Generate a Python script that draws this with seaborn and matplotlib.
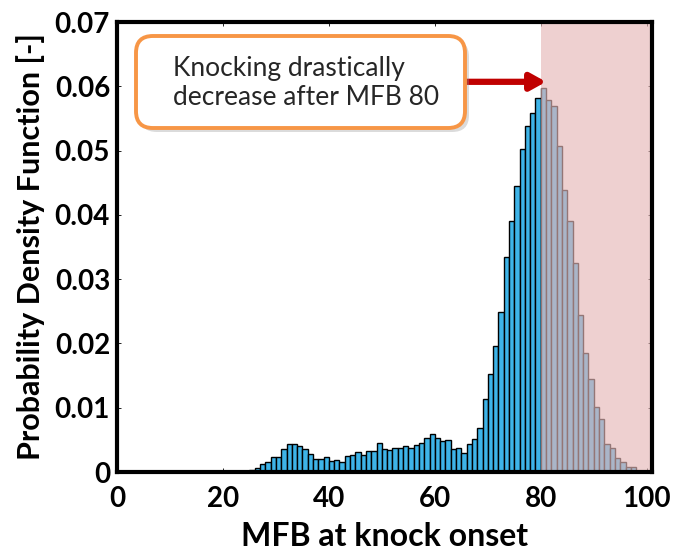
import numpy as np
import pandas as pd
import seaborn as sns
import matplotlib.pyplot as plt
from matplotlib.patches import FancyBboxPatch
from matplotlib.ticker import FuncFormatter

# MFB bins (left edge, width 1) and the PDF value of each bin
mfb_bins = list(range(20, 99))
pdf_values = [
    0.0001, 0.0000, 0.0000, 0.0001, 0.0002, 0.0003, 0.0006, 0.0012, 0.0016, 0.0024,  # 20-29
    0.0024, 0.0036, 0.0043, 0.0043, 0.0040, 0.0036, 0.0028, 0.0020, 0.0020, 0.0024,  # 30-39
    0.0017, 0.0018, 0.0016, 0.0025, 0.0027, 0.0031, 0.0027, 0.0033, 0.0033, 0.0045,  # 40-49
    0.0036, 0.0034, 0.0038, 0.0037, 0.0041, 0.0037, 0.0042, 0.0045, 0.0053, 0.0059,  # 50-59
    0.0053, 0.0048, 0.0050, 0.0036, 0.0038, 0.0029, 0.0043, 0.0052, 0.0069, 0.0114,  # 60-69
    0.0153, 0.0196, 0.0249, 0.0335, 0.0391, 0.0445, 0.0503, 0.0538, 0.0559, 0.0582,  # 70-79
    0.0597, 0.0578, 0.0570, 0.0507, 0.0438, 0.0391, 0.0325, 0.0245, 0.0185, 0.0145,  # 80-89
    0.0101, 0.0083, 0.0043, 0.0038, 0.0022, 0.0016, 0.0008, 0.0008, 0.0000,          # 90-98
]
x_ticks = [0, 20, 40, 60, 80, 100]
y_ticks = [0, 0.01, 0.02, 0.03, 0.04, 0.05, 0.06, 0.07]
mfb_limit = 80
note_text = "Knocking drastically\ndecrease after MFB 80"

sns.set_style("ticks")
plt.rcParams['font.family'] = ['Lato', 'DejaVu Sans']

fig = plt.figure(figsize=(6.74, 5.59), dpi=100)
ax = fig.add_axes([0.1736, 0.1556, 0.7938, 0.805])

df = pd.DataFrame({'mfb': np.array(mfb_bins) + 0.5, 'pdf': pdf_values})
sns.histplot(data=df, x='mfb', weights='pdf', binwidth=1,
             binrange=(mfb_bins[0], mfb_bins[-1] + 1),
             color='#3eb4e8', edgecolor='black', linewidth=1.0, alpha=1, ax=ax)

# region after MFB 80 shaded over the bars
ax.axvspan(mfb_limit, 101, color='#e5b7b7', alpha=0.65, lw=0, zorder=3)

ax.set_xlim(0, 101)
ax.set_ylim(0, 0.07)
ax.set_xticks(x_ticks)
ax.set_yticks(y_ticks)
ax.yaxis.set_major_formatter(FuncFormatter(lambda v, p: '0' if v == 0 else f'{v:.2f}'))
ax.tick_params(direction='in', length=3, width=0.6, color='black', top=True, right=True,
               labelsize=20, labelcolor='black')
ax.tick_params(axis='x', pad=10)
ax.tick_params(axis='y', pad=5)
for lab in ax.get_xticklabels() + ax.get_yticklabels():
    lab.set_fontweight('bold')
for sp in ax.spines.values():
    sp.set_visible(True)
    sp.set_linewidth(3)
    sp.set_color('black')
    sp.set_zorder(5)

ax.set_xlabel('MFB at knock onset', fontsize=23, fontweight='bold', labelpad=7, color='black')
ax.set_ylabel('Probability Density Function [-]', fontsize=22, fontweight='bold',
              labelpad=7, color='black')

# callout box (figure fraction coords, round corners kept circular)
asp = 674 / 559
bx0, bx1 = 136 / 674, 465 / 674
by0, by1 = 1 - 128 / 559, 1 - 36 / 559
shadow = FancyBboxPatch((bx0 + 4 / 674, by0 - 4 / 559), bx1 - bx0, by1 - by0,
                        boxstyle='round,pad=0,rounding_size=0.025', mutation_aspect=asp,
                        transform=fig.transFigure, fc='#999999', ec='none', alpha=0.35, zorder=6)
box = FancyBboxPatch((bx0, by0), bx1 - bx0, by1 - by0,
                     boxstyle='round,pad=0,rounding_size=0.025', mutation_aspect=asp,
                     transform=fig.transFigure, fc='white', ec='#f79646', lw=2.8, zorder=7)
fig.patches.extend([shadow, box])
fig.text(173 / 674, 1 - 83 / 559, note_text, fontsize=19, va='center', ha='left',
         linespacing=1.2, zorder=8)

ax.annotate('', xy=(81.0, 0.0607), xytext=(65.9, 0.0607),
            arrowprops=dict(arrowstyle='-|>,head_length=0.9,head_width=0.5',
                            color='#c00000', lw=4.5, shrinkA=0, shrinkB=0),
            zorder=8)

fig.savefig('out.png', dpi=100)
